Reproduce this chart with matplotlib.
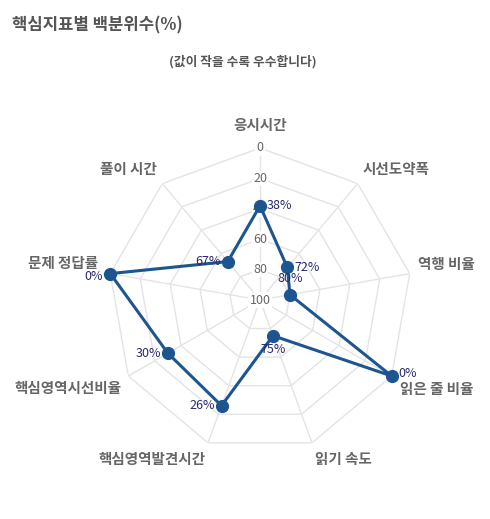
import numpy as np
import matplotlib
matplotlib.use("Agg")
import matplotlib.pyplot as plt

plt.rcParams["font.family"] = ["Noto Sans CJK KR", "DejaVu Sans"]

# ── 데이터 ────────────────────────────────────────────────────────────────
labels = ["응시시간", "시선도약폭", "역행 비율", "읽은 줄 비율", "읽기 속도",
          "핵심영역발견시간", "핵심영역시선비율", "문제 정답률", "풀이 시간"]
values = [38, 72, 80, 0, 75, 26, 30, 0, 67]
ticks = [0, 20, 40, 60, 80, 100]

TITLE = "핵심지표별 백분위수(%)"
SUBTITLE = "(값이 작을 수록 우수합니다)"

LINE_C = "#1d5590"
LABEL_C = "#2a2870"
GRID_C = "#e4e4e4"
TEXT_C = "#666666"

# 데이터 라벨 위치 (pt offset, ha, va)
dl_style = [
    ((5, 0), "left", "center"),
    ((5, 0), "left", "center"),
    ((0, 7), "center", "bottom"),
    ((5, 2), "left", "center"),
    ((0, -5), "center", "top"),
    ((-5, 0), "right", "center"),
    ((-5, 0), "right", "center"),
    ((-5, -2), "right", "center"),
    ((-5, 0), "right", "center"),
]

n = len(labels)
angles = np.arange(n) * 2 * np.pi / n

fig = plt.figure(figsize=(4.9, 5.19), dpi=100)
ax = fig.add_axes([108 / 490, 67 / 519, 304 / 490, 304 / 519], projection="polar")
ax.set_theta_offset(np.pi / 2)
ax.set_theta_direction(-1)
ax.set_rlim(100, 0)
ax.grid(False)
ax.spines["polar"].set_visible(False)
ax.set_xticks([])
ax.set_yticks([])
ax.patch.set_alpha(0)

# 다각형 그리드
closed = np.append(angles, angles[0])
for t in ticks[:-1]:
    ax.plot(closed, [t] * (n + 1), color=GRID_C, lw=1, zorder=1)
for a in angles:
    ax.plot([a, a], [100, 0], color=GRID_C, lw=1, zorder=1)

# 눈금 라벨
for t in ticks:
    ax.text(0, t, str(t), ha="center", va="center", fontsize=9, color=TEXT_C,
            bbox=dict(boxstyle="square,pad=0.1", fc="white", ec="none"), zorder=2)

# 데이터
vals_closed = values + values[:1]
ax.plot(closed, vals_closed, color=LINE_C, lw=2.2, zorder=3, clip_on=False)
ax.plot(angles, values, "o", color=LINE_C, ms=8.5, zorder=4, clip_on=False)

for a, v, (off, ha, va) in zip(angles, values, dl_style):
    ax.annotate(f"{v}%", (a, v), xytext=off, textcoords="offset points",
                ha=ha, va=va, fontsize=9, color=LABEL_C, zorder=5,
                annotation_clip=False)

# 축 라벨
for a, lab in zip(angles, labels):
    deg = np.degrees(a)
    if deg == 0:
        ha, va, r = "center", "bottom", -10
    elif deg < 180:
        ha, r = "left", -5.5
        va = "bottom" if deg < 90 else "top"
    else:
        ha, r = "right", -5.5
        va = "top" if deg < 270 else "bottom"
    if 260 < deg < 300:
        r = -8
    if 100 < deg < 140:
        r = -6.5
    ax.text(a, r, lab, ha=ha, va=va, fontsize=10.5, fontweight="bold",
            color=TEXT_C, clip_on=False)

fig.text(12 / 490, 1 - 25 / 519, TITLE, ha="left", va="center",
         fontsize=12, fontweight="bold", color="#555555")
fig.text(243 / 490, 1 - 62 / 519, SUBTITLE, ha="center", va="center",
         fontsize=9.2, fontweight="bold", color="#555555")

fig.savefig("out.png", dpi=100)
